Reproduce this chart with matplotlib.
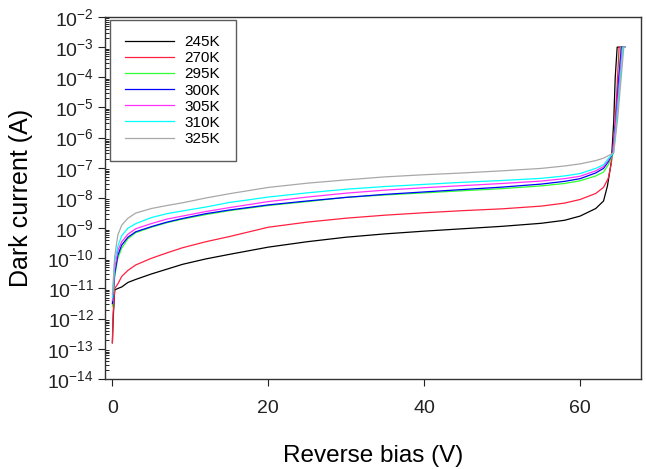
import numpy as np
import matplotlib
matplotlib.use("Agg")
import matplotlib.pyplot as plt
from matplotlib.ticker import LogLocator, NullFormatter, LogFormatterSciNotation

plt.rcParams['font.family'] = ['Liberation Sans', 'DejaVu Sans']
plt.rcParams['mathtext.default'] = 'regular'

# Reverse bias (V) for the leakage part, shared by all curves
bias = [0, 0.1, 0.3, 0.7, 1.2, 2, 3, 5, 7, 9, 12, 15, 20, 25, 30,
        35, 40, 45, 50, 55, 58, 60, 62, 63]

# log10 of dark current (A)
log_245 = [-12.8, -12.0, -11.05, -11.0, -10.95, -10.8, -10.7, -10.52, -10.36, -10.2, -10.02, -9.87,
           -9.63, -9.45, -9.3, -9.19, -9.1, -9.02, -8.94, -8.84, -8.74, -8.6, -8.35, -8.1]
log_270 = [-12.8, -11.8, -11.0, -10.85, -10.6, -10.4, -10.22, -10.0, -9.82, -9.65, -9.45, -9.28,
           -8.97, -8.8, -8.67, -8.57, -8.49, -8.42, -8.36, -8.27, -8.17, -8.05, -7.85, -7.65]
log_295 = [-11.6, -11.3, -10.6, -10.0, -9.66, -9.35, -9.15, -8.97, -8.82, -8.7, -8.55, -8.42,
           -8.25, -8.12, -7.98, -7.9, -7.83, -7.76, -7.69, -7.6, -7.52, -7.43, -7.27, -7.14]
log_300 = [-11.5, -11.2, -10.5, -9.9, -9.56, -9.3, -9.12, -8.95, -8.8, -8.68, -8.52, -8.4,
           -8.23, -8.1, -7.98, -7.88, -7.8, -7.72, -7.64, -7.54, -7.45, -7.36, -7.17, -7.02]
log_305 = [-11.4, -11.1, -10.35, -9.75, -9.45, -9.2, -9.02, -8.85, -8.7, -8.6, -8.45, -8.32,
           -8.12, -7.97, -7.84, -7.74, -7.66, -7.59, -7.52, -7.44, -7.36, -7.28, -7.1, -6.96]
log_310 = [-11.3, -11.0, -10.1, -9.61, -9.25, -9.0, -8.85, -8.65, -8.52, -8.43, -8.3, -8.15,
           -7.97, -7.83, -7.71, -7.62, -7.55, -7.48, -7.42, -7.35, -7.27, -7.19, -7.02, -6.9]
log_325 = [-11.2, -10.8, -9.94, -9.23, -8.9, -8.67, -8.5, -8.35, -8.25, -8.16, -8.0, -7.86,
           -7.65, -7.51, -7.4, -7.3, -7.23, -7.17, -7.1, -7.02, -6.94, -6.87, -6.76, -6.68]

# breakdown part: (bias, log10 current) per curve, ending at the 1 mA compliance
bd_bias_245 = [63.5, 64.0, 64.3, 64.5, 64.75, 65.8]
bd_log_245 = [-7.6, -6.8, -5.5, -4.0, -3.0, -3.0]
bd_bias_270 = [63.6, 64.0, 64.4, 64.7, 65.0, 65.8]
bd_log_270 = [-7.35, -6.85, -5.8, -4.5, -3.0, -3.0]
bd_bias_295 = [63.6, 64.2, 64.6, 64.9, 65.2, 65.8]
bd_log_295 = [-6.9, -6.55, -5.5, -4.3, -3.0, -3.0]
bd_bias_300 = [63.6, 64.2, 64.6, 64.9, 65.3, 65.8]
bd_log_300 = [-6.8, -6.52, -5.4, -4.2, -3.0, -3.0]
bd_bias_305 = [63.6, 64.2, 64.6, 65.0, 65.4, 65.8]
bd_log_305 = [-6.75, -6.5, -5.4, -4.2, -3.0, -3.0]
bd_bias_310 = [63.6, 64.3, 64.7, 65.1, 65.5, 65.8]
bd_log_310 = [-6.7, -6.5, -5.4, -4.2, -3.0, -3.0]
bd_bias_325 = [63.6, 64.3, 64.8, 65.2, 65.6, 65.8]
bd_log_325 = [-6.6, -6.5, -5.4, -4.2, -3.0, -3.0]

labels = ['245K', '270K', '295K', '300K', '305K', '310K', '325K']
colors = ['black', '#ff2040', '#30ff30', '#0000ff', '#ff30ff', '#00ffff', '#a8a8a8']

curves = [
    (log_245, bd_bias_245, bd_log_245),
    (log_270, bd_bias_270, bd_log_270),
    (log_295, bd_bias_295, bd_log_295),
    (log_300, bd_bias_300, bd_log_300),
    (log_305, bd_bias_305, bd_log_305),
    (log_310, bd_bias_310, bd_log_310),
    (log_325, bd_bias_325, bd_log_325),
]

fig = plt.figure(figsize=(6.46, 4.69), dpi=100)
ax = fig.add_axes([0.1625, 0.192, 0.8297, 0.7718])

for (lg, bdv, bdl), lab, c in zip(curves, labels, colors):
    v = np.array(bias + bdv)
    i = 10.0 ** np.array(lg + bdl)
    ax.plot(v, i, color=c, lw=0.9, label=lab)

ax.set_yscale('log')
ax.set_ylim(1e-14, 1e-2)
ax.set_xlim(-0.95, 67.8)
ax.set_xticks([0, 20, 40, 60])
ax.yaxis.set_major_locator(LogLocator(base=10, numticks=20))
ax.yaxis.set_major_formatter(LogFormatterSciNotation())
ax.yaxis.set_minor_locator(LogLocator(base=10, subs=np.arange(2, 10), numticks=20))
ax.yaxis.set_minor_formatter(NullFormatter())

ax.tick_params(axis='both', which='major', direction='out', length=5, width=0.8,
               labelsize=14, colors='#222222')
ax.tick_params(axis='y', which='minor', direction='in', length=3, width=0.6)
ax.tick_params(axis='x', pad=10)
ax.tick_params(axis='y', pad=3)
for s in ax.spines.values():
    s.set_linewidth(1.0)
    s.set_color('#333333')

ax.set_xlabel('Reverse bias (V)', fontsize=17.5, labelpad=20)
ax.set_ylabel('Dark current (A)', fontsize=18, labelpad=10)

leg = ax.legend(loc='upper left', bbox_to_anchor=(0.009, 0.992), fontsize=11,
                frameon=True, fancybox=False, handlelength=3.2, handletextpad=0.7,
                labelspacing=0.14, borderpad=1.0, borderaxespad=0.0)
leg.get_frame().set_edgecolor('#333333')
leg.get_frame().set_linewidth(1.0)

fig.savefig('out.png', dpi=100, facecolor='white')
